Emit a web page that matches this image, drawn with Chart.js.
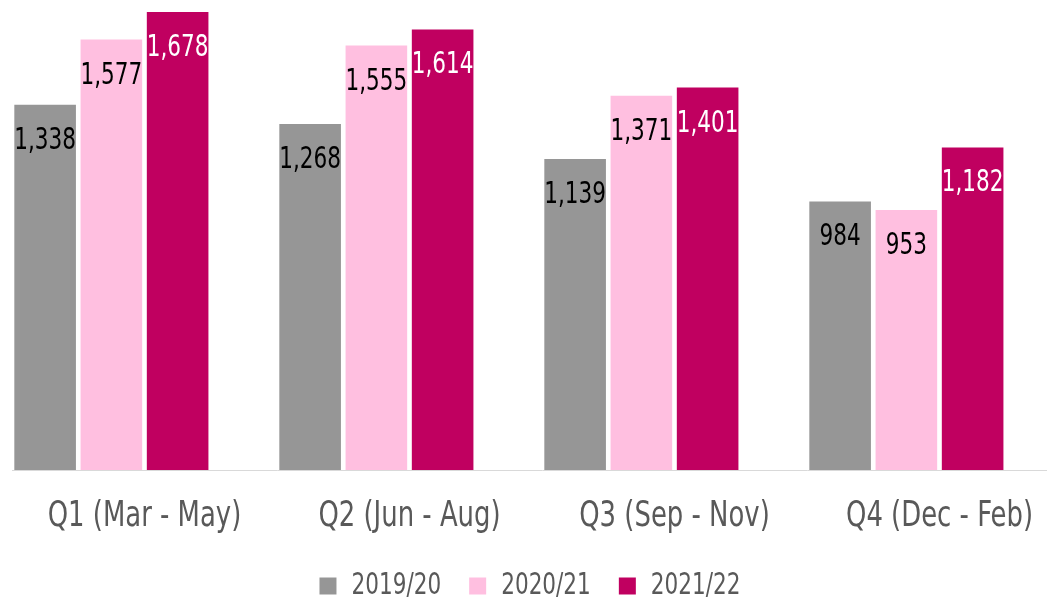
<!DOCTYPE html>
<html>
<head>
<meta charset="utf-8">
<script src="https://cdn.jsdelivr.net/npm/chart.js@4"></script>
<style>
  html, body { margin: 0; padding: 0; background: #fff; overflow: hidden; }
  #wrap { width: 1080px; height: 611px; }
</style>
</head>
<body>
<div id="wrap"><canvas id="quarterChart" width="1080" height="611"></canvas></div>
<script>
const categories = ['Q1 (Mar - May)', 'Q2 (Jun - Aug)', 'Q3 (Sep - Nov)', 'Q4 (Dec - Feb)'];
const seriesNames = ['2019/20', '2020/21', '2021/22'];
const values1920 = [1338, 1268, 1139, 984];
const values2021 = [1577, 1555, 1371, 953];
const values2122 = [1678, 1614, 1401, 1182];

const FONT = "'Liberation Sans Narrow', 'DejaVu Sans Condensed', sans-serif";
const barColors = ['#969696', '#FFBFE0', '#C00060'];
const labelColors = ['#000000', '#000000', '#FFFFFF'];

// no narrow font here, so squeeze all canvas text horizontally (measure + draw)
const SQUEEZE = 0.8;
const proto = CanvasRenderingContext2D.prototype;
const origFill = proto.fillText;
const origMeasure = proto.measureText;
proto.fillText = function (text, x, y) {
    this.save();
    this.translate(x, y);
    this.scale(SQUEEZE, 1);
    origFill.call(this, text, 0, 0);
    this.restore();
};
proto.measureText = function (text) {
    const m = origMeasure.call(this, text);
    return {
        width: m.width * SQUEEZE,
        actualBoundingBoxLeft: m.actualBoundingBoxLeft * SQUEEZE,
        actualBoundingBoxRight: m.actualBoundingBoxRight * SQUEEZE,
        actualBoundingBoxAscent: m.actualBoundingBoxAscent,
        actualBoundingBoxDescent: m.actualBoundingBoxDescent
    };
};

// values written inside the top of each bar
const barLabels = {
    id: 'barLabels',
    afterDatasetsDraw(chart) {
        const ctx = chart.ctx;
        ctx.save();
        ctx.font = '30px ' + FONT;
        ctx.textAlign = 'center';
        ctx.textBaseline = 'alphabetic';
        chart.data.datasets.forEach((ds, i) => {
            const meta = chart.getDatasetMeta(i);
            meta.data.forEach((bar, j) => {
                const v = ds.data[j];
                if (v == null) return;
                ctx.fillStyle = labelColors[i];
                ctx.fillText(v.toLocaleString('en-US'), bar.x, bar.y + 44);
            });
        });
        ctx.restore();
    }
};

// the original plot runs off the right edge, so pull the legend back to the visible middle
const legendShift = {
    id: 'legendShift',
    afterLayout(chart) {
        const lg = chart.legend;
        const dx = 530 - (lg.left + lg.right) / 2;
        lg.left += dx;
        lg.right += dx;
    }
};

const ctx = document.getElementById('quarterChart').getContext('2d');
new Chart(ctx, {
    type: 'bar',
    data: {
        labels: categories,
        datasets: [
            { label: seriesNames[0], data: values1920, backgroundColor: barColors[0] },
            { label: seriesNames[1], data: values2021, backgroundColor: barColors[1] },
            { label: seriesNames[2], data: values2122, backgroundColor: barColors[2] },
            // empty fourth slot, like the source chart
            { label: '', data: [null, null, null, null], backgroundColor: 'rgba(0,0,0,0)' }
        ]
    },
    options: {
        responsive: false,
        animation: false,
        events: [],
        layout: { padding: { left: 12, right: 8, top: 6, bottom: 0 } },
        datasets: {
            bar: { categoryPercentage: 1.0, barPercentage: 0.93 }
        },
        scales: {
            x: {
                grid: { display: false, drawTicks: false },
                border: { display: true, color: '#D9D9D9', width: 1 },
                ticks: {
                    color: '#595959',
                    font: { family: FONT, size: 36 },
                    padding: 25,
                    maxRotation: 0
                },
                afterFit(scale) {
                    scale.height = 73;
                }
            },
            y: {
                display: false,
                min: 0,
                max: 1700
            }
        },
        plugins: {
            legend: {
                display: true,
                position: 'bottom',
                labels: {
                    color: '#595959',
                    font: { family: FONT, size: 30 },
                    boxWidth: 17,
                    boxHeight: 17,
                    padding: 28,
                    filter: item => item.text !== ''
                }
            },
            tooltip: { enabled: false }
        }
    },
    plugins: [barLabels, legendShift]
});
</script>
</body>
</html>
